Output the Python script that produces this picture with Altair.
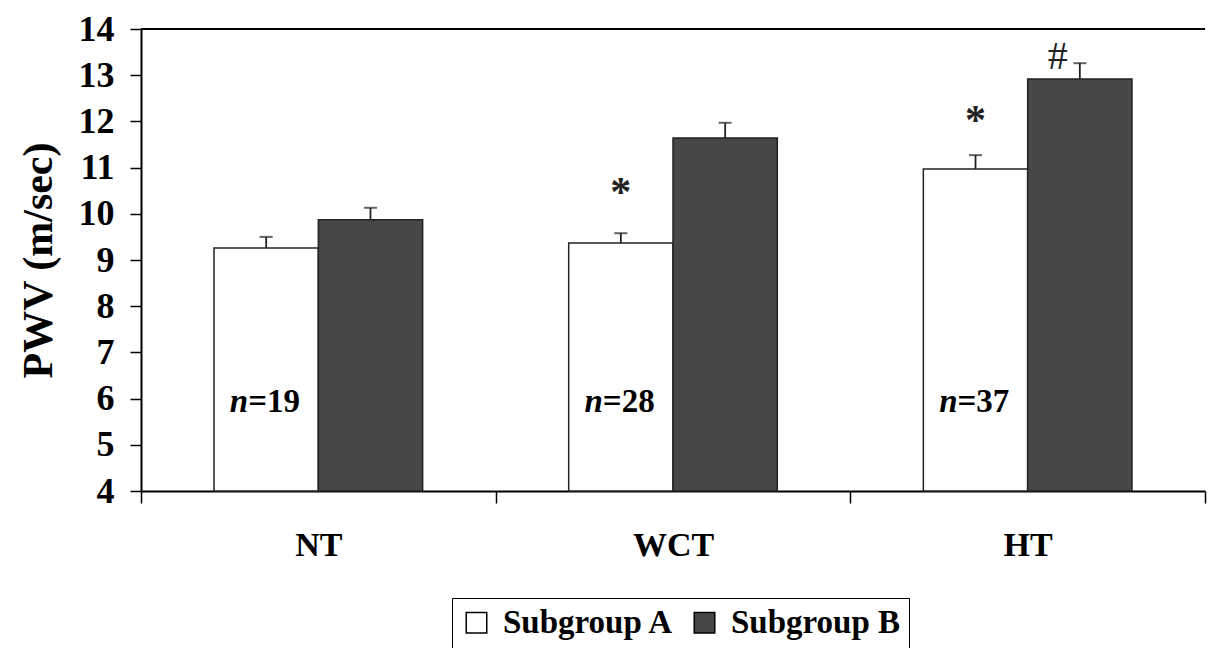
import altair as alt
import pandas as pd

categories = ["NT", "WCT", "HT"]
subgroups = ["Subgroup A", "Subgroup B"]
means_a = [9.26, 9.37, 10.97]
means_b = [9.87, 11.64, 12.92]
err_a = [0.24, 0.21, 0.30]
err_b = [0.26, 0.33, 0.34]
n_counts = [19, 28, 37]
n_label_y = [5.93, 5.93, 5.93]
star_cats = ["WCT", "HT"]
star_y = [10.45, 12.0]
hash_cats = ["HT"]
hash_y = [13.4]
y_min, y_max = 4, 14

FONT = "Liberation Serif"

rows = []
for i, c in enumerate(categories):
    rows.append({"category": c, "subgroup": subgroups[0], "mean": means_a[i], "top": means_a[i] + err_a[i]})
    rows.append({"category": c, "subgroup": subgroups[1], "mean": means_b[i], "top": means_b[i] + err_b[i]})
bars_df = pd.DataFrame(rows)

n_df = pd.DataFrame({"category": categories, "subgroup": [subgroups[0]] * 3,
                     "y": n_label_y, "n": ["n"] * 3, "rest": ["=" + str(v) for v in n_counts]})
star_df = pd.DataFrame({"category": star_cats, "subgroup": [subgroups[0]] * len(star_cats),
                        "y": star_y, "t": ["*"] * len(star_cats)})
hash_df = pd.DataFrame({"category": hash_cats, "subgroup": [subgroups[1]] * len(hash_cats),
                        "y": hash_y, "t": ["#"] * len(hash_cats)})
top_df = pd.DataFrame({"y": [y_max]})

x_enc = alt.X("category:N", sort=categories, title=None,
              scale=alt.Scale(paddingInner=0, paddingOuter=0),
              axis=alt.Axis(tickBand="extent", labelFont=FONT, labelFontSize=34, labelFontWeight="bold",
                            labelColor="black", labelAngle=0, labelPadding=25, tickSize=12,
                            tickColor="black", tickWidth=1.5, domainColor="black", domainWidth=2,
                            grid=False))
xo_enc = alt.XOffset("subgroup:N", sort=subgroups, scale=alt.Scale(paddingInner=0, paddingOuter=0.7))
y_scale = alt.Scale(domain=[y_min, y_max], nice=False, zero=False)
y_enc = alt.Y("mean:Q", scale=y_scale, title="PWV (m/sec)",
              axis=alt.Axis(values=list(range(y_min, y_max + 1)), labelFont=FONT, labelFontSize=36,
                            labelFontWeight="bold", labelColor="black", labelPadding=16,
                            tickSize=11, tickColor="black", tickWidth=1.5, domainColor="black",
                            domainWidth=2, grid=False, titleFont=FONT, titleFontSize=42,
                            titleFontWeight="bold", titleColor="black", titlePadding=18))

color_enc = alt.Color("subgroup:N", sort=subgroups,
                      scale=alt.Scale(domain=subgroups, range=["#ffffff", "#474747"]),
                      legend=alt.Legend(title=None, orient="none", legendX=311, legendY=569,
                                        direction="horizontal", symbolType="square", symbolSize=420,
                                        symbolStrokeColor="black", symbolStrokeWidth=1.5,
                                        symbolOpacity=1, labelFont=FONT, labelFontSize=33,
                                        labelFontWeight="bold", labelColor="black", labelOffset=10,
                                        columnPadding=14, strokeColor="black", padding=8,
                                        fillColor="white", labelLimit=400))

bars = alt.Chart(bars_df).mark_bar(stroke="#222222", strokeWidth=1.5, opacity=1).encode(
    x=x_enc, xOffset=xo_enc, y=y_enc, y2=alt.datum(y_min), color=color_enc)

err_rule = alt.Chart(bars_df).mark_rule(color="#222222", strokeWidth=1.8).encode(
    x=alt.X("category:N", sort=categories), xOffset=alt.XOffset("subgroup:N", sort=subgroups),
    y="mean:Q", y2="top:Q")

err_cap = alt.Chart(bars_df).mark_tick(color="#222222", size=13, thickness=2).encode(
    x=alt.X("category:N", sort=categories), xOffset=alt.XOffset("subgroup:N", sort=subgroups),
    y=alt.Y("top:Q"))

n_italic = alt.Chart(n_df).mark_text(font=FONT, fontSize=33, fontWeight="bold", fontStyle="italic",
                                     align="right", baseline="middle", dx=-18, color="black").encode(
    x=alt.X("category:N", sort=categories), xOffset=alt.XOffset("subgroup:N", sort=subgroups),
    y=alt.Y("y:Q"), text="n:N")

n_rest = alt.Chart(n_df).mark_text(font=FONT, fontSize=33, fontWeight="bold",
                                   align="left", baseline="middle", dx=-18, color="black").encode(
    x=alt.X("category:N", sort=categories), xOffset=alt.XOffset("subgroup:N", sort=subgroups),
    y=alt.Y("y:Q"), text="rest:N")

stars = alt.Chart(star_df).mark_text(font=FONT, fontSize=42, fontWeight="bold", align="center",
                                     baseline="middle", color="#222222").encode(
    x=alt.X("category:N", sort=categories), xOffset=alt.XOffset("subgroup:N", sort=subgroups),
    y=alt.Y("y:Q"), text="t:N")

hashes = alt.Chart(hash_df).mark_text(font=FONT, fontSize=40, fontWeight="normal", align="center",
                                      baseline="middle", dx=-22, color="#222222").encode(
    x=alt.X("category:N", sort=categories), xOffset=alt.XOffset("subgroup:N", sort=subgroups),
    y=alt.Y("y:Q"), text="t:N")

top_line = alt.Chart(top_df).mark_rule(color="black", strokeWidth=2).encode(y=alt.Y("y:Q"))

chart = alt.layer(bars, err_rule, err_cap, n_italic, n_rest, stars, hashes, top_line).properties(
    width=1064, height=462,
    autosize=alt.AutoSizeParams(type="none"),
    padding={"left": 133, "top": 21, "right": 3, "bottom": 157},
    background="white",
).configure_view(stroke=None)

chart.save("out.html", embed_options={"renderer": "svg", "actions": False})
